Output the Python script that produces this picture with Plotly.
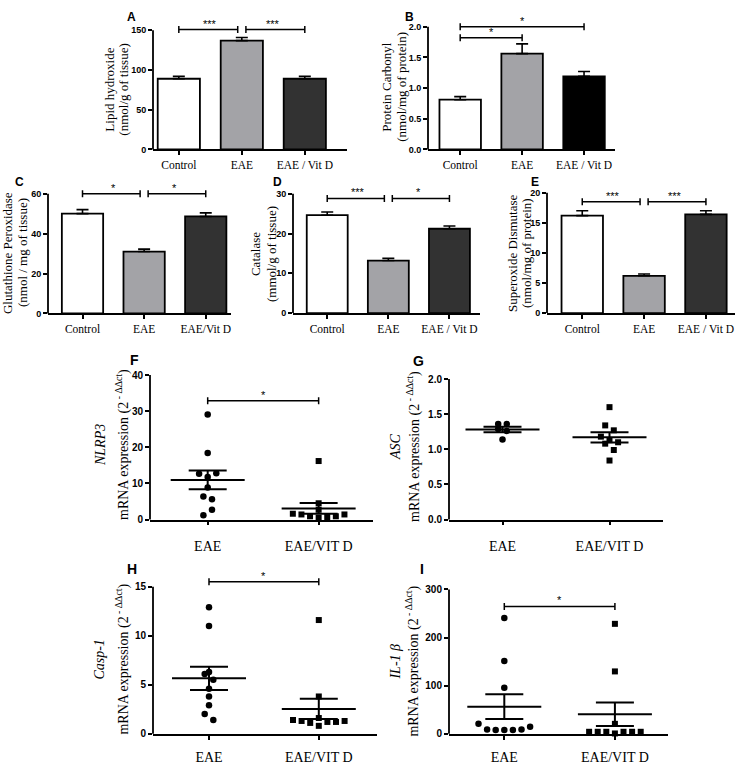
import numpy as np
import plotly.graph_objects as go

W, H = 738, 765

# ---------------- data ----------------
bar_groups = ["Control", "EAE", "EAE / Vit D"]
bar_groups_c = ["Control", "EAE", "EAE/Vit D"]
dot_groups = ["EAE", "EAE/VIT D"]

lipid_mean = [89, 137, 89]
lipid_sem = [3, 4, 3]
carbonyl_mean = [0.81, 1.56, 1.19]
carbonyl_sem = [0.05, 0.16, 0.08]
gpx_mean = [50.0, 31.0, 48.6]
gpx_sem = [2.0, 1.2, 1.8]
cat_mean = [24.6, 13.2, 21.2]
cat_sem = [0.8, 0.6, 0.7]
sod_mean = [16.2, 6.2, 16.4]
sod_sem = [0.8, 0.3, 0.6]

nlrp3_eae = [29.1, 18.4, 12.7, 11.8, 12.8, 8.9, 6.4, 5.6, 1.2, 2.7]
nlrp3_vitd = [16.2, 4.5, 2.7, 1.6, 1.4, 0.9, 0.5, 0.7, 0.9, 1.4]
asc_eae = [1.36, 1.36, 1.29, 1.26, 1.14]
asc_vitd = [1.60, 1.34, 1.27, 1.18, 1.08, 1.13, 1.10, 0.99, 0.84]
casp1_eae = [12.9, 11.0, 6.1, 5.5, 6.3, 4.6, 3.8, 2.9, 2.0, 1.4]
casp1_vitd = [11.6, 3.8, 1.4, 1.3, 1.1, 0.8, 1.2, 1.2, 1.3, 1.6]
il1b_eae = [240.7, 151.0, 95.5, 20.5, 8.9, 7.5, 7.5, 7.5, 8.9, 14.3]
il1b_vitd = [228.4, 129.5, 20.5, 4.0, 4.0, 4.0, 0.5, 4.0, 4.0, 4.0]

lipid_ticks = [0, 50, 100, 150]
carbonyl_ticks = [0, 0.5, 1.0, 1.5, 2.0]
gpx_ticks = [0, 20, 40, 60]
cat_ticks = [0, 10, 20, 30]
sod_ticks = [0, 5, 10, 15, 20]
nlrp3_ticks = [0, 10, 20, 30, 40]
asc_ticks = [0, 0.5, 1.0, 1.5, 2.0]
casp1_ticks = [0, 5, 10, 15]
il1b_ticks = [0, 100, 200, 300]

# significance brackets: (from group, to group, label, level)
sig_A = [(0, 1, "***", 151), (1, 2, "***", 151)]
sig_B = [(0, 2, "*", 2.0), (0, 1, "*", 1.82)]
sig_C = [(0, 1, "*", 60), (1, 2, "*", 60)]
sig_D = [(0, 1, "***", 28.8), (1, 2, "*", 28.8)]
sig_E = [(0, 1, "***", 18.5), (1, 2, "***", 18.5)]
sig_F = [(0, 1, "*", 32.9)]
sig_G = []
sig_H = [(0, 1, "*", 15.5)]
sig_I = [(0, 1, "*", 264.5)]

# ---------------- styling / layout ----------------
SERIF = "Liberation Serif, Times New Roman, serif"
SANS = "Liberation Sans, Arial, sans-serif"
WHITE, GRAY, DARK, BLACK = "#ffffff", "#a3a3a7", "#323232", "#000000"

geom = {
    1: dict(x0=153, x1=347, xr=(-0.41, 2.67), y0=145.7, yt=24.7),
    2: dict(x0=428, x1=615, xr=(-0.52, 2.5), y0=145.7, yt=21.0),
    3: dict(x0=48, x1=231, xr=(-0.56, 2.41), y0=312.3, yt=190.7),
    4: dict(x0=293, x1=480, xr=(-0.56, 2.5), y0=312.0, yt=190.7),
    5: dict(x0=547, x1=735, xr=(-0.57, 2.47), y0=312.0, yt=189.7),
    6: dict(x0=150, x1=373, xr=(-0.52, 1.49), y0=521.7, yt=375.0),
    7: dict(x0=449, x1=663, xr=(-0.5, 1.5), y0=521.7, yt=379.0),
    8: dict(x0=153, x1=377, xr=(-0.51, 1.53), y0=739.3, yt=590.0),
    9: dict(x0=449, x1=668, xr=(-0.5, 1.48), y0=739.3, yt=592.7),
}
xlabel_standoff = {6: 9, 7: 9, 8: 6, 9: 6}

fig = go.Figure()
layout = {}
shapes = []
annotations = []

AXLW = 1.8


def fmt_ticks(ticks):
    if any(isinstance(t, float) and not float(t).is_integer() for t in ticks):
        return ["%.1f" % t for t in ticks]
    return [str(int(t)) for t in ticks]


def setup(k, ticks, xtext, xfont, yfont, sigs):
    g = geom[k]
    ax = "" if k == 1 else str(k)
    ppu_y = (g["y0"] - g["yt"]) / ticks[-1]
    ppu_x = (g["x1"] - g["x0"]) / (g["xr"][1] - g["xr"][0])
    top_val = ticks[-1]
    for s in sigs:
        top_val = max(top_val, s[3] + 6 / ppu_y)
    top_px = g["y0"] - top_val * ppu_y
    layout["xaxis" + ax] = dict(
        domain=[g["x0"] / W, g["x1"] / W], range=list(g["xr"]), anchor="y" + ax,
        showline=True, linecolor=BLACK, linewidth=AXLW, ticks="outside", ticklen=4,
        tickwidth=1.6, tickcolor=BLACK, tickvals=list(range(len(xtext))), ticktext=xtext,
        tickfont=xfont, showgrid=False, zeroline=False, fixedrange=True,
        ticklabelstandoff=xlabel_standoff.get(k, 0),
    )
    layout["yaxis" + ax] = dict(
        domain=[1 - g["y0"] / H, 1 - top_px / H], range=[0, top_val], anchor="x" + ax,
        showline=False, ticks="outside", ticklen=4, tickwidth=1.6, tickcolor=BLACK,
        tickvals=ticks, ticktext=fmt_ticks(ticks), tickfont=yfont, showgrid=False,
        zeroline=False, fixedrange=True,
    )
    # y axis line up to last tick
    shapes.append(dict(type="line", xref="x" + ax + " domain", yref="y" + ax + " domain",
                       x0=0, x1=0, y0=0, y1=ticks[-1] / top_val,
                       line=dict(color=BLACK, width=AXLW)))
    # brackets
    for (a, b, lab, lev) in sigs:
        xa, xb = float(a), float(b)
        for (c, d, _, lv2) in sigs:
            if (c, d) == (a, b) or abs(lv2 - lev) > 1e-9:
                continue
            if d == a:
                xa += 0.065
            if c == b:
                xb -= 0.065
        shapes.append(dict(type="line", xref="x" + ax, yref="y" + ax, x0=xa, x1=xb,
                           y0=lev, y1=lev, line=dict(color=BLACK, width=1.5)))
        for xe in (xa, xb):
            shapes.append(dict(type="line", xref="x" + ax, yref="y" + ax, x0=xe, x1=xe,
                               ysizemode="pixel", yanchor=lev, y0=-3.5, y1=3.5,
                               line=dict(color=BLACK, width=1.5)))
        annotations.append(dict(xref="x" + ax, yref="y" + ax, x=(a + b) / 2, y=lev,
                                yshift=6, text=lab, showarrow=False,
                                font=dict(family=SANS, size=11, color=BLACK)))
    return ax, ppu_x, ppu_y


def bar_panel(k, groups, means, sems, colors, ticks, sigs):
    ax, _, _ = setup(k, ticks, groups, dict(family=SERIF, size=11.5, color=BLACK),
                     dict(family=SANS, size=9, color=BLACK, weight="bold"), sigs)
    fig.add_trace(go.Bar(
        x=list(range(len(means))), y=means, width=0.67,
        marker=dict(color=colors, line=dict(color=BLACK, width=1.8)),
        error_y=dict(type="data", array=sems, arrayminus=[0] * len(sems), symmetric=False,
                     color=BLACK, thickness=1.6, width=6),
        xaxis="x" + ax, yaxis="y" + ax, showlegend=False, hoverinfo="skip"))


SLOT_PX = 8.6
ROW_PX = 6.5
MEAN_HALF_PX = 37
SEM_HALF_PX = 19


def swarm(vals, ppu_y):
    order = sorted(range(len(vals)), key=lambda i: vals[i])
    rows, cur = [], [order[0]]
    for i in order[1:]:
        if (vals[i] - vals[cur[0]]) * ppu_y < ROW_PX:
            cur.append(i)
        else:
            rows.append(cur)
            cur = [i]
    rows.append(cur)
    slots = [0.0] * len(vals)
    for r in rows:
        r = sorted(r)
        n = len(r)
        for j, i in enumerate(r):
            slots[i] = j - (n - 1) / 2
    return slots


def dot_panel(k, groups, series, ticks, sigs):
    ax, ppu_x, ppu_y = setup(k, ticks, groups, dict(family=SERIF, size=14, color=BLACK),
                             dict(family=SANS, size=10, color=BLACK, weight="bold"), sigs)
    symbols = ["circle", "square"]
    sizes = [6.5, 6]
    for gi, vals in enumerate(series):
        slots = swarm(vals, ppu_y)
        xs = [gi + s * SLOT_PX / ppu_x for s in slots]
        fig.add_trace(go.Scatter(x=xs, y=vals, mode="markers", cliponaxis=False,
                                 marker=dict(symbol=symbols[gi], size=sizes[gi], color=BLACK),
                                 xaxis="x" + ax, yaxis="y" + ax, showlegend=False,
                                 hoverinfo="skip"))
        m = float(np.mean(vals))
        se = float(np.std(vals, ddof=1) / np.sqrt(len(vals)))
        hw = MEAN_HALF_PX / ppu_x
        sw = SEM_HALF_PX / ppu_x
        fig.add_trace(go.Scatter(
            x=[gi - hw, gi + hw, None, gi - sw, gi + sw, None, gi - sw, gi + sw, None, gi, gi],
            y=[m, m, None, m + se, m + se, None, m - se, m - se, None, m - se, m + se],
            mode="lines", line=dict(color=BLACK, width=2), cliponaxis=False,
            xaxis="x" + ax, yaxis="y" + ax, showlegend=False, hoverinfo="skip"))


bar_panel(1, bar_groups, lipid_mean, lipid_sem, [WHITE, GRAY, DARK], lipid_ticks, sig_A)
bar_panel(2, bar_groups, carbonyl_mean, carbonyl_sem, [WHITE, GRAY, BLACK], carbonyl_ticks, sig_B)
bar_panel(3, bar_groups_c, gpx_mean, gpx_sem, [WHITE, GRAY, DARK], gpx_ticks, sig_C)
bar_panel(4, bar_groups, cat_mean, cat_sem, [WHITE, GRAY, DARK], cat_ticks, sig_D)
bar_panel(5, bar_groups, sod_mean, sod_sem, [WHITE, GRAY, DARK], sod_ticks, sig_E)
dot_panel(6, dot_groups, [nlrp3_eae, nlrp3_vitd], nlrp3_ticks, sig_F)
dot_panel(7, dot_groups, [asc_eae, asc_vitd], asc_ticks, sig_G)
dot_panel(8, dot_groups, [casp1_eae, casp1_vitd], casp1_ticks, sig_H)
dot_panel(9, dot_groups, [il1b_eae, il1b_vitd], il1b_ticks, sig_I)


def ptext(text, x, y, size, family=SERIF, angle=-90, bold=False):
    annotations.append(dict(xref="paper", yref="paper", x=x / W, y=1 - y / H,
                            xanchor="center", yanchor="middle", text=text,
                            textangle=angle, showarrow=False,
                            font=dict(family=family, size=size, color=BLACK,
                                      weight="bold" if bold else "normal")))


# y-axis titles
ptext("Lipid hydroxide", 110, 85, 13)
ptext("(nmol/g of tissue)", 124, 85, 13)
ptext("Protein Carbonyl", 387, 82, 13)
ptext("(nmol/mg of protein)", 402, 82, 13)
ptext("Glutathione Peroxidase", 7, 251, 13)
ptext("(nmol / mg of tissue)", 22, 251, 13)
ptext("Catalase", 255, 252, 13)
ptext("(mmol/g of tissue)", 271, 252, 13)
ptext("Superoxide Dismutase", 512, 251, 13)
ptext("(nmol/mg of protein)", 526, 251, 13)
EXPR = "mRNA expression (2<sup> - ΔΔct</sup>)"
ptext("<i>NLRP3</i>", 100, 446, 14)
ptext(EXPR, 122, 446, 14)
ptext("<i>ASC</i>", 396, 448, 14)
ptext(EXPR, 414, 448, 14)
ptext("<i>Casp-1</i>", 100, 664, 14)
ptext(EXPR, 123, 664, 14)
ptext("<i>IL-1 β</i>", 396, 666, 14)
ptext(EXPR, 413, 666, 14)

# panel letters
for lab, x, y, s in [("A", 131, 11, 12), ("B", 409, 11, 12), ("C", 19, 179, 12),
                     ("D", 277, 179, 12), ("E", 535, 179, 12), ("F", 134, 360, 14),
                     ("G", 418, 361, 14), ("H", 132, 572, 14), ("I", 422, 572, 14)]:
    ptext(lab, x, y, s, family=SANS, angle=0, bold=True)

layout.update(dict(width=W, height=H, autosize=False, margin=dict(l=0, r=0, t=0, b=0),
                   paper_bgcolor="white", plot_bgcolor="white", showlegend=False,
                   shapes=shapes, annotations=annotations))
fig.update_layout(**layout)
fig.write_html("out.html", config={"displayModeBar": False},
               post_script="document.body.style.margin='0';document.body.style.overflow='hidden';")
